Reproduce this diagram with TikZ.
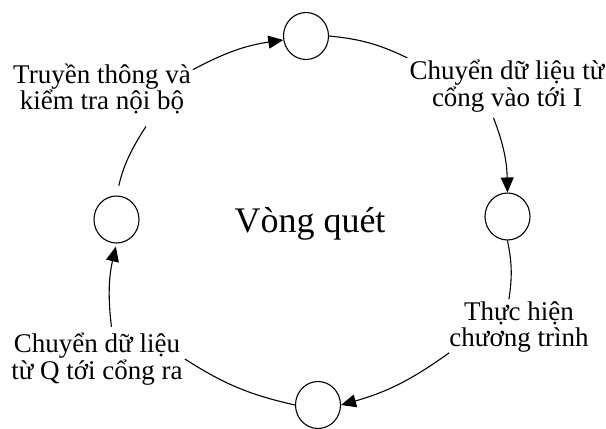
\documentclass[tikz,border=0pt]{standalone}
\usepackage{fontspec}
\setmainfont{Liberation Serif}
\usetikzlibrary{arrows.meta,shapes.geometric,calc}

\tikzset{
  stage/.style={draw, ellipse, line width=1.1pt, inner sep=0pt,
                minimum width=45pt, minimum height=47pt},
  label/.style={align=center, inner sep=2pt,
                font=\fontsize{27}{26.5}\selectfont},
  title/.style={inner sep=0pt, font=\fontsize{36}{40}\selectfont},
  link/.style={line width=1.1pt, bend left=10},
  flow/.style={link, -{Triangle[length=15pt,width=13pt]}},
}

\begin{document}
\begin{tikzpicture}[x=1pt, y=-1pt]
  \fill[white] (0,0) rectangle (606,429);
  \useasboundingbox (0,0) rectangle (606,429);
  \clip (0,0) rectangle (606,429);

  % the four stages of the scan cycle
  \node[stage] (top)    at (306,36)  {};
  \node[stage] (right)  at (507.5,216.5) {};
  \node[stage] (bottom) at (318,405) {};
  \node[stage] (left)   at (116.5,219.5) {};

  % step descriptions
  \node[label] (comm) at (102,89)  {Truyền thông và\\kiểm tra nội bộ};
  \node[label] (in)   at (507,86)  {Chuyển dữ liệu từ\\cổng vào tới I};
  \node[label] (exec) at (519,327) {Thực hiện\\chương trình};
  \node[label] (out)  at (97,359)  {Chuyển dữ liệu\\từ Q tới cổng ra};

  \node[title, anchor=base] (cycle) at (310,232) {Vòng quét};

  % connectors around the ring
  \draw[flow] (comm.12) to (top.190);
  \draw[link] (top.east) to (in.north west);
  \draw[flow, shorten <=4pt] (in.-118) to (right.north);
  \draw[link] (right.south) to (exec.110);
  \draw[flow] ($(exec.south west)+(2,-2)$) to (bottom.east);
  \draw[link] (bottom.west) to (out.east);
  \draw[flow, shorten <=4pt, shorten >=3pt] (out.62) to (left.south);
  \draw[link, shorten <=10pt] (left.north) to ($(comm.south)+(44,10)$);
\end{tikzpicture}
\end{document}
